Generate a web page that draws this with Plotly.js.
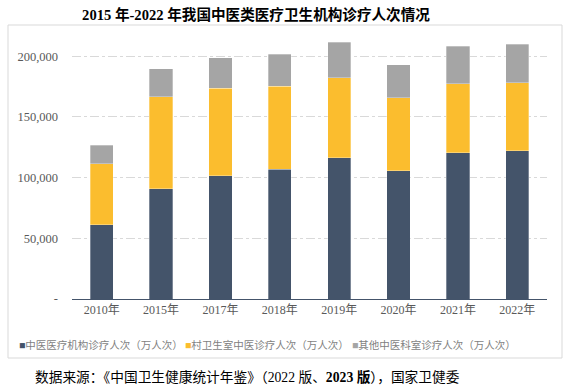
<!DOCTYPE html>
<html><head><meta charset="utf-8">
<script src="https://cdn.plot.ly/plotly-3.0.1.min.js"></script>
<style>html,body{margin:0;padding:0;background:#fff}#chart{width:569px;height:388px}</style>
</head><body><div id="chart"></div>
<script>
const years = ['2010年','2015年','2017年','2018年','2019年','2020年','2021年','2022年'];
const seriesNames = ['中医医疗机构诊疗人次（万人次）','村卫生室中医诊疗人次（万人次）','其他中医科室诊疗人次（万人次）'];
const tcmInstitutions = [61300, 90750, 101500, 106900, 116300, 105600, 120400, 122100];
const villageClinics = [50100, 75900, 72200, 68250, 66000, 60200, 57000, 56100];
const otherDepartments = [15100, 23100, 25100, 26650, 29300, 27200, 31000, 31800];
const colors = ['#44546a', '#fbbd2e', '#a5a5a5'];
const yTickVals = [0, 50000, 100000, 150000, 200000];
const yTickText = ['-', '50,000', '100,000', '150,000', '200,000'];
const titleText = '2015 年-2022 年我国中医类医疗卫生机构诊疗人次情况';
const sourceText = '数据来源：《中国卫生健康统计年鉴》（2022 版、<b>2023 版</b>），国家卫健委';

const L = 72, R = 22, T = 32, B = 89, W = 569, H = 388;
const pw = W - L - R, ph = H - T - B;
const px = x => (x - L) / pw;
const py = y => 1 - (y - T) / ph;

const serif = '"Liberation Serif", "Times New Roman", "Noto Sans CJK SC", serif';
const allSeries = [tcmInstitutions, villageClinics, otherDepartments];
const traces = allSeries.map((vals, i) => ({
  type: 'bar', x: years, y: vals, name: seriesNames[i],
  marker: {color: colors[i], line: {color: 'rgba(255,255,255,0.6)', width: 0.5}},
  showlegend: false, hoverinfo: 'skip'
}));

const legendX = [17, 183, 350];
const annotations = seriesNames.map((n, i) => ({
  xref: 'paper', yref: 'paper', x: px(legendX[i]), y: py(345),
  xanchor: 'left', yanchor: 'middle', showarrow: false,
  text: '<span style="color:' + colors[i] + '">■</span>' + n,
  font: {family: serif, size: 10.5, color: '#7f7f7f'}
}));
annotations.push({
  xref: 'paper', yref: 'paper', x: px(33), y: py(377),
  xanchor: 'left', yanchor: 'middle', showarrow: false,
  text: sourceText, font: {family: serif, size: 13.7, color: '#000'}
});

const layout = {
  width: W, height: H,
  margin: {l: L, r: R, t: T, b: B, pad: 0},
  paper_bgcolor: '#fff', plot_bgcolor: '#fff',
  title: {text: '<b>' + titleText + '</b>', xref: 'container', yref: 'container',
    x: 256 / W, xanchor: 'center', y: 1 - 15 / H, yanchor: 'middle',
    font: {family: serif, size: 14.6, color: '#000'}},
  barmode: 'stack', bargap: 0.61,
  xaxis: {showline: true, linecolor: '#44546a', linewidth: 1, ticks: '', showgrid: false,
    tickfont: {family: serif, size: 12, color: '#595959'}, fixedrange: true},
  yaxis: {range: [0, 220000], tickvals: yTickVals, ticktext: yTickText,
    showgrid: true, gridcolor: '#d9d9d9', griddash: 'dashdot', gridwidth: 1,
    zeroline: false, showline: false, ticks: '', ticklabelstandoff: 13,
    tickfont: {family: serif, size: 12.5, color: '#595959'}, fixedrange: true},
  shapes: [{type: 'rect', xref: 'paper', yref: 'paper',
    x0: px(8), x1: px(562), y0: py(358), y1: py(25),
    line: {color: '#d9d9d9', width: 1}, fillcolor: 'rgba(0,0,0,0)', layer: 'below'}],
  annotations: annotations
};
Plotly.newPlot('chart', traces, layout, {staticPlot: true, displayModeBar: false});
</script></body></html>
